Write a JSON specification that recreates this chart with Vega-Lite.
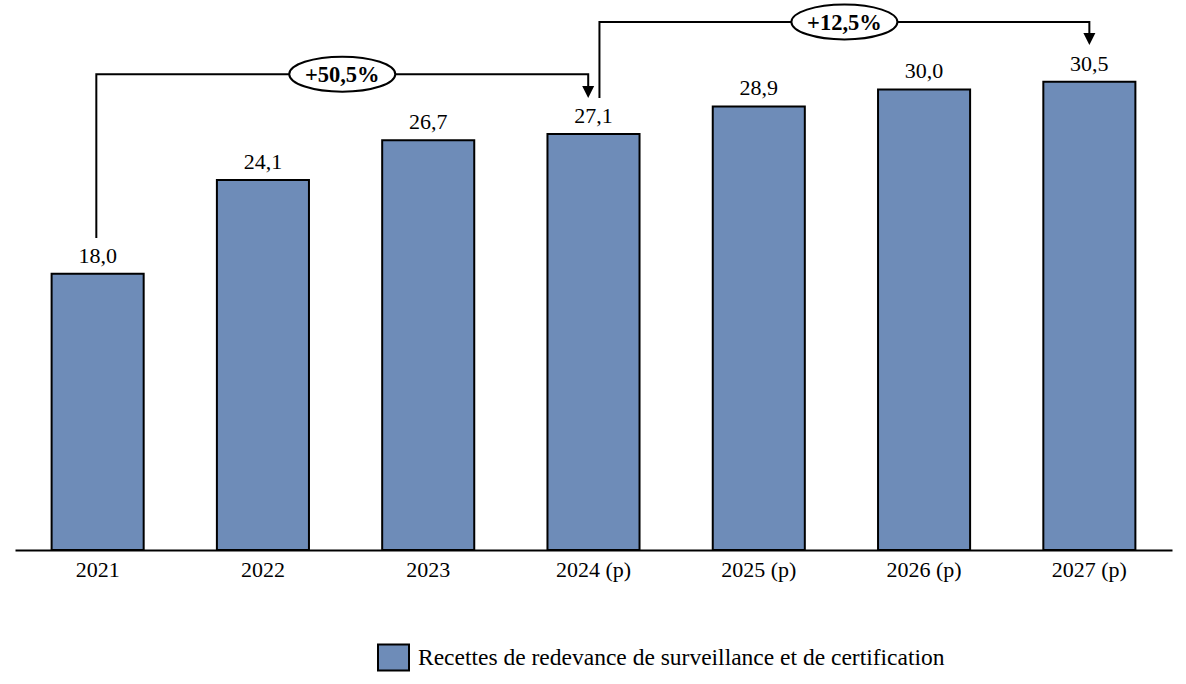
{
  "$schema": "https://vega.github.io/schema/vega-lite/v6.json",
  "width": 1157,
  "height": 550,
  "autosize": {"type": "none"},
  "padding": {"left": 15, "top": 0, "right": 14, "bottom": 134},
  "background": "white",
  "config": {
    "view": {"stroke": null},
    "font": "Liberation Serif",
    "locale": {"number": {"decimal": ",", "thousands": "\u00a0", "grouping": [3], "currency": ["", " €"]}}
  },
  "datasets": {
    "bars": [
      {"annee": "2021", "valeur": 18.0, "serie": "Recettes de redevance de surveillance et de certification"},
      {"annee": "2022", "valeur": 24.1, "serie": "Recettes de redevance de surveillance et de certification"},
      {"annee": "2023", "valeur": 26.7, "serie": "Recettes de redevance de surveillance et de certification"},
      {"annee": "2024 (p)", "valeur": 27.1, "serie": "Recettes de redevance de surveillance et de certification"},
      {"annee": "2025 (p)", "valeur": 28.9, "serie": "Recettes de redevance de surveillance et de certification"},
      {"annee": "2026 (p)", "valeur": 30.0, "serie": "Recettes de redevance de surveillance et de certification"},
      {"annee": "2027 (p)", "valeur": 30.5, "serie": "Recettes de redevance de surveillance et de certification"}
    ],
    "brackets": [
      {"groupe": 1, "ordre": 1, "pos": -0.008, "niveau": 20.33},
      {"groupe": 1, "ordre": 2, "pos": -0.008, "niveau": 31.0},
      {"groupe": 1, "ordre": 3, "pos": 2.968, "niveau": 31.0},
      {"groupe": 1, "ordre": 4, "pos": 2.968, "niveau": 30.2},
      {"groupe": 2, "ordre": 1, "pos": 3.036, "niveau": 29.45},
      {"groupe": 2, "ordre": 2, "pos": 3.036, "niveau": 34.4},
      {"groupe": 2, "ordre": 3, "pos": 6.0, "niveau": 34.4},
      {"groupe": 2, "ordre": 4, "pos": 6.0, "niveau": 33.6}
    ],
    "arrows": [
      {"pos": 2.968, "niveau": 29.84},
      {"pos": 6.0, "niveau": 33.29}
    ],
    "badges": [
      {"pos": 1.48, "niveau": 31.0, "texte": "+50,5%"},
      {"pos": 4.518, "niveau": 34.4, "texte": "+12,5%"}
    ]
  },
  "layer": [
    {
      "data": {"name": "bars"},
      "mark": {"type": "bar", "stroke": "black", "strokeWidth": 2},
      "encoding": {
        "x": {
          "field": "annee", "type": "ordinal", "sort": null,
          "scale": {"paddingInner": 0.443, "paddingOuter": 0.2215},
          "axis": {"title": null, "domainColor": "black", "domainWidth": 2, "ticks": false,
                   "labelFont": "Liberation Serif", "labelFontSize": 22, "labelColor": "black",
                   "labelPadding": 9, "labelAngle": 0}
        },
        "y": {"field": "valeur", "type": "quantitative", "scale": {"domain": [0, 35.83], "nice": false}, "axis": null},
        "color": {
          "field": "serie", "type": "nominal",
          "scale": {"range": ["#6E8CB8"]},
          "legend": {
            "title": null, "orient": "none", "legendX": 362, "legendY": 641,
            "symbolType": "M-1,-0.84L1,-0.84L1,0.84L-1,0.84Z", "symbolSize": 961,
            "symbolStrokeColor": "black", "symbolStrokeWidth": 2, "symbolOpacity": 1,
            "labelFont": "Liberation Serif", "labelFontSize": 23.5, "labelColor": "black",
            "labelOffset": 8, "padding": 0, "labelLimit": 800
          }
        }
      }
    },
    {
      "data": {"name": "bars"},
      "mark": {"type": "text", "dy": -11, "baseline": "alphabetic", "fontSize": 22, "font": "Liberation Serif", "color": "black"},
      "encoding": {
        "x": {"field": "annee", "type": "ordinal", "sort": null, "scale": {"paddingInner": 0.443, "paddingOuter": 0.2215}, "axis": null},
        "y": {"field": "valeur", "type": "quantitative", "scale": {"domain": [0, 35.83], "nice": false}, "axis": null},
        "text": {"field": "valeur", "type": "quantitative", "format": ".1f"}
      }
    },
    {
      "data": {"name": "brackets"},
      "mark": {"type": "line", "color": "black", "strokeWidth": 2},
      "encoding": {
        "x": {"field": "pos", "type": "quantitative", "scale": {"domain": [-0.5, 6.5], "nice": false, "zero": false}, "axis": null},
        "y": {"field": "niveau", "type": "quantitative", "scale": {"domain": [0, 35.83], "nice": false}, "axis": null},
        "detail": {"field": "groupe", "type": "nominal"},
        "order": {"field": "ordre", "type": "quantitative"}
      }
    },
    {
      "data": {"name": "arrows"},
      "mark": {"type": "point", "shape": "M-1,-1L1,-1L0,1Z", "size": 144, "filled": true, "color": "black", "opacity": 1},
      "encoding": {
        "x": {"field": "pos", "type": "quantitative", "scale": {"domain": [-0.5, 6.5], "nice": false, "zero": false}, "axis": null},
        "y": {"field": "niveau", "type": "quantitative", "scale": {"domain": [0, 35.83], "nice": false}, "axis": null}
      }
    },
    {
      "data": {"name": "badges"},
      "mark": {"type": "point", "shape": "M-1,0C-1,-0.182,-0.552,-0.33,0,-0.33C0.552,-0.33,1,-0.182,1,0C1,0.182,0.552,0.33,0,0.33C-0.552,0.33,-1,0.182,-1,0Z", "size": 11236, "filled": true, "fill": "white", "stroke": "black", "strokeWidth": 2, "opacity": 1, "fillOpacity": 1},
      "encoding": {
        "x": {"field": "pos", "type": "quantitative", "scale": {"domain": [-0.5, 6.5], "nice": false, "zero": false}, "axis": null},
        "y": {"field": "niveau", "type": "quantitative", "scale": {"domain": [0, 35.83], "nice": false}, "axis": null}
      }
    },
    {
      "data": {"name": "badges"},
      "mark": {"type": "text", "font": "Liberation Serif", "fontSize": 22.5, "fontWeight": "bold", "color": "black", "baseline": "middle", "align": "center", "dy": 1},
      "encoding": {
        "x": {"field": "pos", "type": "quantitative", "scale": {"domain": [-0.5, 6.5], "nice": false, "zero": false}, "axis": null},
        "y": {"field": "niveau", "type": "quantitative", "scale": {"domain": [0, 35.83], "nice": false}, "axis": null},
        "text": {"field": "texte", "type": "nominal"}
      }
    }
  ],
  "resolve": {"scale": {"x": "independent"}, "axis": {"x": "independent"}}
}
